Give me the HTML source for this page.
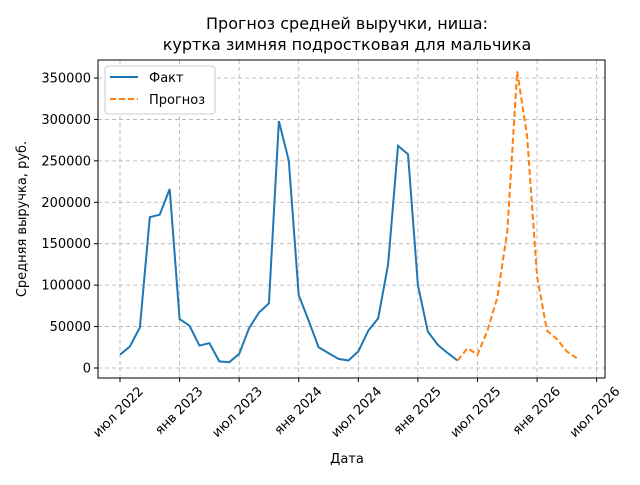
<!DOCTYPE html>
<html><head><meta charset="utf-8"><style>
body{margin:0;background:#fff;font-family:"Liberation Sans","DejaVu Sans",sans-serif}
svg text{font-family:"DejaVu Sans","Liberation Sans",sans-serif}
</style></head><body>
<svg id="chart" width="640" height="480" xmlns="http://www.w3.org/2000/svg">
<rect width="640" height="480" fill="#fff"/>
<text x="347" y="29" font-size="16" text-anchor="middle">Прогноз средней выручки, ниша:</text>
<text x="347" y="50" font-size="16" text-anchor="middle">куртка зимняя подростковая для мальчика</text>
<g id="grid"></g><g id="axes"></g><g id="series"></g>
<text x="347" y="463" font-size="13" text-anchor="middle">Дата</text>
<text transform="translate(26,219) rotate(-90)" font-size="13" text-anchor="middle">Средняя выручка, руб.</text>
<g>
<rect x="105" y="66" width="110" height="48" rx="3" fill="#fff" stroke="#ccc"/>
<line x1="110" y1="77" x2="138" y2="77" stroke="#1f77b4" stroke-width="2"/>
<text x="149" y="82" font-size="13">Факт</text>
<line x1="110" y1="99" x2="138" y2="99" stroke="#ff7f0e" stroke-width="2" stroke-dasharray="6,3"/>
<text x="149" y="104" font-size="13">Прогноз</text>
</g>
</svg>
<script>
const factStart = [2022, 7];
const factValues = [16000,26000,49000,182000,185000,216000,59000,51000,27000,30000,8000,7000,17000,48000,67000,78000,298000,250000,88000,57000,25000,18000,11000,9000,20000,45000,60000,125000,268000,258000,100000,44000,28000,18000,9000];
const forecastStart = [2025, 5];
const forecastValues = [9000,24000,16000,45000,85000,165000,358000,280000,110000,45000,35000,20000,12000];
const yTicks = [0,50000,100000,150000,200000,250000,300000,350000];
const xTicks = [[2022,7],[2023,1],[2023,7],[2024,1],[2024,7],[2025,1],[2025,7],[2026,1],[2026,7]];
const monthNames = {1:'янв',7:'июл'};
const L=98,R=605,T=60,B=378;
function xs(y,m){return 120 + ((y-2022)*12 + (m-7))*9.93;}
function ys(v){return 368 - v*0.0008286;}
const NS='http://www.w3.org/2000/svg';
function mk(tag,attrs,parent){const e=document.createElementNS(NS,tag);for(const k in attrs)e.setAttribute(k,attrs[k]);parent.appendChild(e);return e;}
const grid=document.getElementById('grid'),axes=document.getElementById('axes'),series=document.getElementById('series');
yTicks.forEach(v=>{const y=ys(v);
 const g=mk('line',{x1:L,x2:R,y1:y,y2:y,stroke:'#b0b0b0','stroke-dasharray':'4,3','stroke-width':0.8},grid);
 
 
 mk('line',{x1:L-4,x2:L,y1:y,y2:y,stroke:'#000'},axes);
 const t=mk('text',{x:L-7,y:y+4.5,'font-size':13,'text-anchor':'end'},axes);t.textContent=String(v);
 
 
});
xTicks.forEach(([yy,m])=>{const x=xs(yy,m);
 const g=mk('line',{x1:x,x2:x,y1:T,y2:B,stroke:'#b0b0b0','stroke-dasharray':'4,3','stroke-width':0.8},grid);
 
 
 mk('line',{x1:x,x2:x,y1:B,y2:B+4,stroke:'#000'},axes);
 const ax=x+24, ay=B+14;
 const t=mk('text',{x:ax,y:ay,'font-size':13,'text-anchor':'end',transform:'rotate(-45 '+ax+' '+ay+')'},axes);
 t.textContent=monthNames[m]+' '+yy;
 
 
});
const frame=mk('rect',{x:L,y:T,width:R-L,height:B-T,fill:'none',stroke:'#000','stroke-width':1},axes);


function pts(start,vals){return vals.map((v,i)=>{const mo=start[1]-1+i;return xs(start[0]+Math.floor(mo/12),mo%12+1).toFixed(1)+','+ys(v).toFixed(1);}).join(' ');}
const f=mk('polyline',{points:pts(factStart,factValues),fill:'none',stroke:'#1f77b4','stroke-width':2},series);


const p=mk('polyline',{points:pts(forecastStart,forecastValues),fill:'none',stroke:'#ff7f0e','stroke-width':2,'stroke-dasharray':'6,3'},series);


</script>
</body></html>
